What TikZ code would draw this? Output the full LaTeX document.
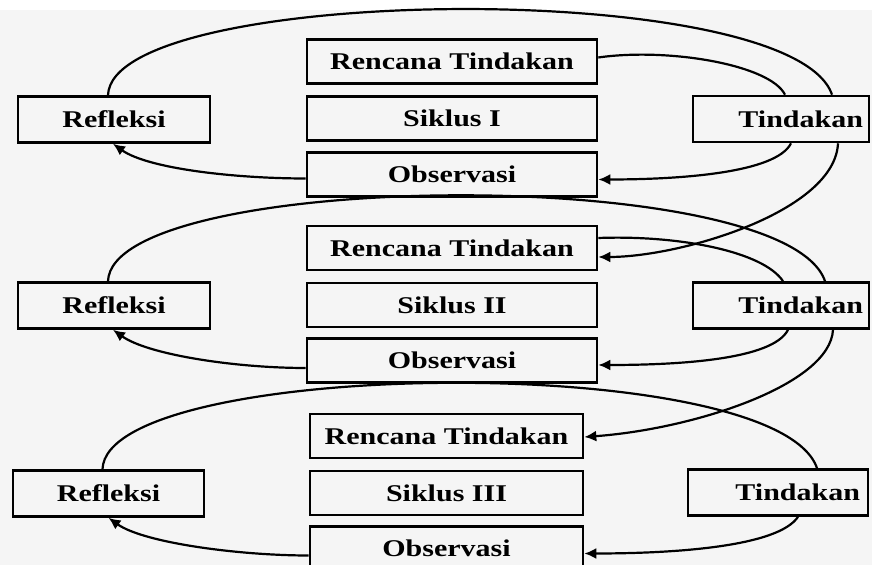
\documentclass[tikz,border=0pt]{standalone}
\usepackage{fontspec}
\setmainfont{Liberation Serif}[FakeStretch=1.25]
\usetikzlibrary{arrows.meta}

\begin{document}
\begin{tikzpicture}[x=0.5pt, y=-0.5pt,
        box/.style={draw, line width=1.3pt, inner sep=0pt, minimum height=22pt,
            font=\bfseries\fontsize{12}{12}\selectfont},
        mid/.style={box, minimum width=145pt},
        side/.style={box, minimum height=23pt, minimum width=96pt},
        act/.style={box, minimum height=23pt, minimum width=88pt, text width=82pt, align=right},
        flow/.style={line width=1.1pt},
        >={Latex[length=6pt,width=5.5pt]}]

        \fill[white] (0,0) rectangle (872,565);
        \fill[black!4] (0,10) rectangle (872,565);
        \useasboundingbox (0,0) rectangle (872,565);

        % Siklus I
        \node[mid] (ren1) at (452,61.5) {Rencana Tindakan};
        \node[mid] (sik1) at (452,118.5) {Siklus I};
        \node[mid] (obs1) at (452,174.5) {Observasi};
        \node[side] (ref1) at (114,119.5) {Refleksi};
        \node[act] (tin1) at (781,119) {Tindakan};

        % Siklus II
        \node[mid] (ren2) at (452,248) {Rencana Tindakan};
        \node[mid] (sik2) at (452,305) {Siklus II};
        \node[mid] (obs2) at (452,360.5) {Observasi};
        \node[side] (ref2) at (114,305.5) {Refleksi};
        \node[act] (tin2) at (781,305.5) {Tindakan};

        % Siklus III
        \node[mid, minimum width=136.5pt] (ren3) at (446.5,436) {Rencana Tindakan};
        \node[mid, minimum width=136.5pt] (sik3) at (446.5,493) {Siklus III};
        \node[mid, minimum width=136.5pt] (obs3) at (446.5,548.5) {Observasi};
        \node[side, minimum width=95.5pt] (ref3) at (108.5,493.5) {Refleksi};
        \node[act, minimum width=90pt] (tin3) at (778,492.5) {Tindakan};

        \draw [flow] ([yshift=2pt]ren1.east) .. controls +(70,-10) and +(-15,-30) .. ([xshift=2pt]tin1.north);
        \draw [flow,->] ([xshift=5pt]tin1.south) .. controls +(-15,30) and +(80,0) .. ([yshift=-2.5pt]obs1.east);
        \draw [flow,->] ([yshift=-2pt]obs1.west) .. controls +(-70,0) and +(35,25) .. ([xshift=-0.5pt]ref1.south);
        \draw [flow] ([xshift=-3pt]ref1.north) .. controls +(4,-111) and +(-40,-118) .. ([xshift=25.5pt]tin1.north);
        \draw [flow,->] ([xshift=28.5pt]tin1.south) .. controls +(-3,68) and +(83,0) .. ([yshift=-4.5pt]ren2.east);

        \draw [flow] ([yshift=5pt]ren2.east) .. controls +(80,-3) and +(-20,-30) .. ([xshift=1pt]tin2.north);
        \draw [flow,->] ([xshift=3.5pt]tin2.south) .. controls +(-15,30) and +(80,0) .. ([yshift=-2.25pt]obs2.east);
        \draw [flow,->] ([yshift=-3.75pt]obs2.west) .. controls +(-70,0) and +(35,25) .. ([xshift=-0.5pt]ref2.south);
        \draw [flow] ([xshift=-3pt]ref2.north) .. controls +(4,-111) and +(-40,-118) .. ([xshift=22pt]tin2.north);
        \draw [flow,->] ([xshift=26pt]tin2.south) .. controls +(-3,55) and +(110,-8) .. ([yshift=-0.5pt]ren3.east);

        \draw [flow,->] ([xshift=10pt]tin3.south) .. controls +(-20,30) and +(90,0) .. ([yshift=-2.5pt]obs3.east);
        \draw [flow,->] ([yshift=-3.5pt]obs3.west) .. controls +(-70,0) and +(35,25) .. (ref3.south);
        \draw [flow] ([xshift=-3pt]ref3.north) .. controls +(4,-111) and +(-40,-118) .. ([xshift=19.5pt]tin3.north);
    \end{tikzpicture}
\end{document}
